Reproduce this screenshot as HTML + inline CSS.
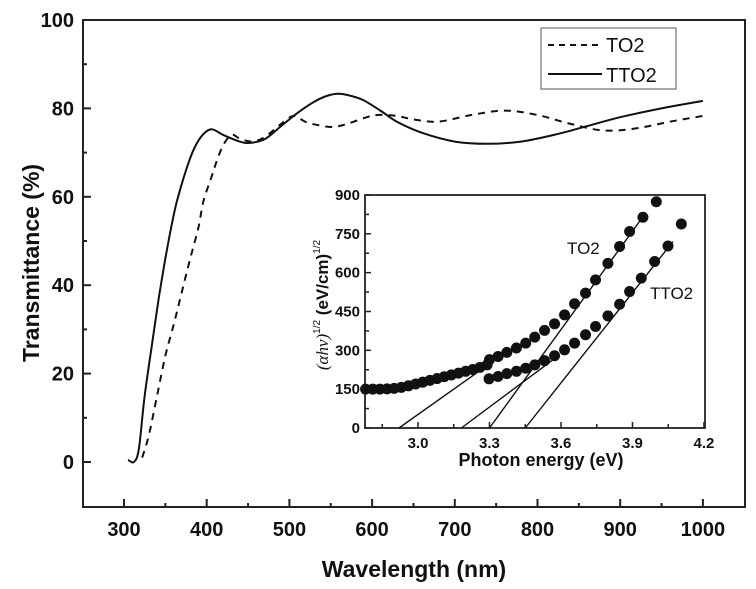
<!DOCTYPE html>
<html><head><meta charset="utf-8"><style>
html,body{margin:0;padding:0;background:#fff;}
svg{display:block;font-family:"Liberation Sans",Arial,sans-serif;}
</style></head><body>
<svg id="chart" width="756" height="589" viewBox="0 0 756 589" xmlns="http://www.w3.org/2000/svg">
<g id="main"></g>
<g id="inset"></g>
</svg>
<script>
// Main chart data
const xTicks = [300,400,500,600,700,800,900,1000];
const yTicks = [0,20,40,60,80,100];
const tto2Wl = [305,312,318,325,335,342,350,358,364,375,385,395,406,420,440,452,470,490,510,530,545,559,575,590,610,630,660,700,740,780,820,860,900,950,1000];
const tto2T  = [0.5,0,3,15,28,37,46,54,59,66,71,74,75.3,74,72.5,72.2,73,76,79,81.5,82.8,83.3,82.8,81.8,79.5,77,74.5,72.5,72,72.5,74,76,78,80,81.7];
const to2Wl = [322,330,340,350,360,368,380,390,396,405,412,420,430,440,455,470,490,505,519,535,553,570,590,606,630,650,680,720,760,800,840,880,920,960,1000];
const to2T  = [1,6,15,24,31,37,46,53,59,64,68,71.7,74,73.2,72.5,73.5,76.5,78.3,77,76.2,75.8,76.5,77.8,78.5,78.3,77.5,77,78.5,79.5,78.5,76.5,75,75.5,77,78.3];
// Inset data
const eTicks = [3.0,3.3,3.6,3.9,4.2];
const aTicks = [0,150,300,450,600,750,900];
const to2E = [2.78,2.81,2.84,2.87,2.90,2.93,2.96,2.99,3.02,3.05,3.08,3.11,3.14,3.17,3.20,3.23,3.26,3.29,3.30,3.336,3.373,3.413,3.452,3.49,3.531,3.573,3.615,3.657,3.703,3.745,3.797,3.846,3.888,3.944,4.0];
const to2A = [150,150,150,151,153,157,163,170,177,184,191,198,205,212,219,226,234,244,264,276,292,309,328,351,377,402,437,480,521,572,636,701,759,814,874];
const tto2E = [3.298,3.336,3.373,3.413,3.452,3.49,3.531,3.573,3.615,3.657,3.703,3.745,3.797,3.846,3.888,3.937,3.993,4.049,4.105];
const tto2A = [190,199,210,219,231,244,260,279,302,328,360,392,433,478,527,579,643,703,788];
const fitX1 = [2.92,3.182,3.30,3.45];
const fitY1 = [0,0,0,0];
const fitX2 = [3.343,3.567,3.955,4.07];
const fitY2 = [276,264,830,720];

const NS="http://www.w3.org/2000/svg";
function mk(parent,tag,attrs){const e=document.createElementNS(NS,tag);for(const k in attrs)e.setAttribute(k,attrs[k]);parent.appendChild(e);return e;}

const X=w=>124+(w-300)*0.827;
const Y=t=>462-t*4.42;
const main=document.getElementById('main');
let f=mk(main,'rect',{x:83,y:20,width:662,height:487,fill:'none',stroke:'#222','stroke-width':2});

xTicks.forEach((v,i)=>{
  mk(main,'line',{x1:X(v),x2:X(v),y1:507,y2:499,stroke:'#222','stroke-width':2});
  if(i<xTicks.length-1) mk(main,'line',{x1:X(v+50),x2:X(v+50),y1:507,y2:503,stroke:'#222','stroke-width':2});
  const t=mk(main,'text',{x:X(v),y:536,'text-anchor':'middle','font-size':20,'font-weight':'bold',fill:'#111'});t.textContent=v;
  
});
yTicks.forEach((v,i)=>{
  mk(main,'line',{x1:83,x2:91,y1:Y(v),y2:Y(v),stroke:'#222','stroke-width':2});
  if(i<yTicks.length-1) mk(main,'line',{x1:83,x2:87,y1:Y(v+10),y2:Y(v+10),stroke:'#222','stroke-width':2});
  const t=mk(main,'text',{x:74,y:Y(v)+7,'text-anchor':'end','font-size':20,'font-weight':'bold',fill:'#111'});t.textContent=v;
  
});
let xt=mk(main,'text',{x:414,y:577,'text-anchor':'middle','font-size':23,'font-weight':'bold',fill:'#111'});xt.textContent='Wavelength (nm)';

let yt=mk(main,'text',{x:0,y:0,transform:'translate(39,263) rotate(-90)','text-anchor':'middle','font-size':23,'font-weight':'bold',fill:'#111'});yt.textContent='Transmittance (%)';

function smooth(xs,ys,fx,fy){
  const p=xs.map((x,i)=>[fx(x),fy(ys[i])]);
  let d='M'+p[0][0].toFixed(1)+','+p[0][1].toFixed(1);
  for(let i=0;i<p.length-1;i++){
    const p0=p[Math.max(0,i-1)],p1=p[i],p2=p[i+1],p3=p[Math.min(p.length-1,i+2)];
    const c1=[p1[0]+(p2[0]-p0[0])/6,p1[1]+(p2[1]-p0[1])/6];
    const c2=[p2[0]-(p3[0]-p1[0])/6,p2[1]-(p3[1]-p1[1])/6];
    d+=' C'+c1.map(v=>v.toFixed(1)).join(',')+' '+c2.map(v=>v.toFixed(1)).join(',')+' '+p2[0].toFixed(1)+','+p2[1].toFixed(1);
  }
  return d;
}
let s1=mk(main,'path',{d:smooth(tto2Wl,tto2T,X,Y),fill:'none',stroke:'#111','stroke-width':2});

let s2=mk(main,'path',{d:smooth(to2Wl,to2T,X,Y),fill:'none',stroke:'#111','stroke-width':2,'stroke-dasharray':'7,6'});

let lg=mk(main,'g',{});
mk(lg,'rect',{x:541,y:28,width:135,height:61,fill:'#fff',stroke:'#555','stroke-width':1});
mk(lg,'line',{x1:548,x2:603,y1:45,y2:45,stroke:'#111','stroke-width':2,'stroke-dasharray':'6,5'});
mk(lg,'line',{x1:548,x2:602,y1:74,y2:74,stroke:'#111','stroke-width':2});
let l1=mk(lg,'text',{x:606,y:52,'font-size':20,fill:'#111'});l1.textContent='TO2';

let l2=mk(lg,'text',{x:606,y:82,'font-size':20,fill:'#111'});l2.textContent='TTO2';


const IX=e=>418+(e-3.0)*238.3;
const IY=a=>428-a*0.2589;
const ins=document.getElementById('inset');
mk(ins,'rect',{x:365,y:195,width:340,height:233,fill:'#fff',stroke:'none'});
let fi=mk(ins,'rect',{x:365,y:195,width:340,height:233,fill:'none',stroke:'#222','stroke-width':1.8});

eTicks.forEach((v,i)=>{
  mk(ins,'line',{x1:IX(v),x2:IX(v),y1:428,y2:422,stroke:'#222','stroke-width':1.5});
  mk(ins,'line',{x1:IX(v-0.15),x2:IX(v-0.15),y1:428,y2:424,stroke:'#222','stroke-width':1.5});
  const t=mk(ins,'text',{x:IX(v),y:448,'text-anchor':'middle','font-size':15,'font-weight':'bold',fill:'#111'});t.textContent=v.toFixed(1);
  
});
aTicks.forEach((v,i)=>{
  mk(ins,'line',{x1:365,x2:371,y1:IY(v),y2:IY(v),stroke:'#222','stroke-width':1.5});
  if(i<aTicks.length-1) mk(ins,'line',{x1:365,x2:369,y1:IY(v+75),y2:IY(v+75),stroke:'#222','stroke-width':1.5});
  const t=mk(ins,'text',{x:360,y:IY(v)+5,'text-anchor':'end','font-size':15,'font-weight':'bold',fill:'#111'});t.textContent=v;
  
});
let ixt=mk(ins,'text',{x:541,y:466,'text-anchor':'middle','font-size':18,'font-weight':'bold',fill:'#111'});ixt.textContent='Photon energy (eV)';

let iyt=mk(ins,'text',{x:0,y:0,transform:'translate(328,305) rotate(-90)','text-anchor':'middle','font-size':17,'font-weight':'bold',fill:'#111'});
iyt.innerHTML='<tspan font-style="italic" font-weight="normal" font-family="Liberation Serif,serif">(αhν)</tspan><tspan font-size="10" font-weight="normal" dy="-8">1/2</tspan><tspan dy="8"> (eV/cm)</tspan><tspan font-size="10" font-weight="normal" dy="-8">1/2</tspan>';

fitX1.forEach((x,i)=>{
  const l=mk(ins,'line',{x1:IX(x),y1:IY(fitY1[i]),x2:IX(fitX2[i]),y2:IY(fitY2[i]),stroke:'#111','stroke-width':1.4});
  
});
to2E.forEach((e,i)=>{
  const c=mk(ins,'circle',{cx:IX(e),cy:IY(to2A[i]),r:5.5,fill:'#111'});
  
});
tto2E.forEach((e,i)=>{
  const c=mk(ins,'circle',{cx:IX(e),cy:IY(tto2A[i]),r:5.5,fill:'#111'});
  
});
let it1=mk(ins,'text',{x:567,y:254,'font-size':17,fill:'#111'});it1.textContent='TO2';

let it2=mk(ins,'text',{x:650,y:299,'font-size':17,fill:'#111'});it2.textContent='TTO2';

</script>
</body></html>
